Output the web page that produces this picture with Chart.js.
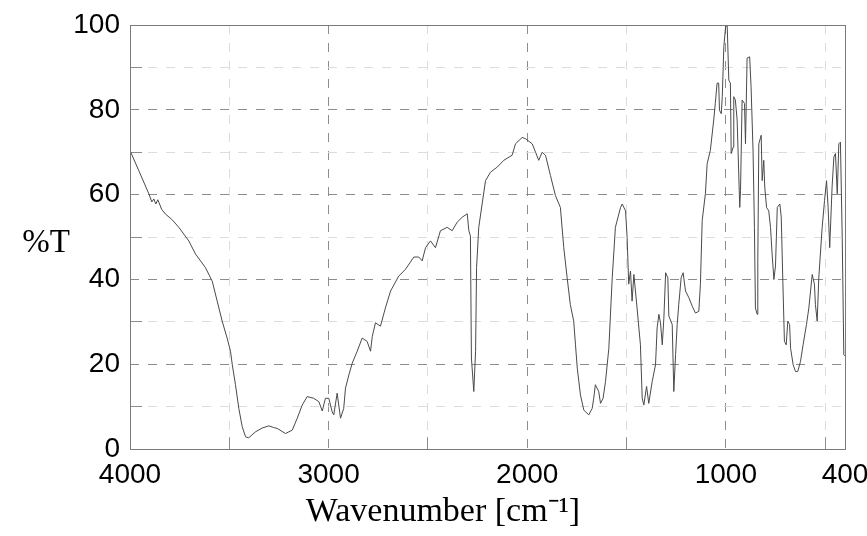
<!DOCTYPE html>
<html lang="en">
<head>
  <meta charset="UTF-8">
  <title>IR spectrum</title>
  <script src="https://cdn.jsdelivr.net/npm/chart.js"></script>
  <style>
    body { margin: 0; background: #fff; }
    #wrap { width: 867px; height: 536px; }
  </style>
</head>
<body>
  <div id="wrap"><canvas id="irChart"></canvas></div>

  <script>
    // values
    const wavenumbers = [
      4000, 3956, 3905, 3890, 3880, 3870, 3860, 3840, 3821, 3790, 3754, 3704, 3670, 3620, 3586, 3561,
      3536, 3511, 3494, 3485, 3469, 3452, 3435, 3418, 3402, 3368, 3334, 3301, 3276, 3259, 3217, 3183,
      3158, 3133, 3108, 3075, 3049, 3032, 3016, 2999, 2982, 2974, 2957, 2940, 2924, 2915, 2898, 2881,
      2856, 2831, 2806, 2789, 2780, 2764, 2739, 2714, 2688, 2647, 2613, 2571, 2546, 2529, 2512, 2487,
      2462, 2437, 2403, 2378, 2353, 2327, 2302, 2294, 2286, 2281, 2269, 2260, 2255, 2244, 2227, 2210,
      2185, 2151, 2118, 2076, 2059, 2025, 2009, 1975, 1958, 1942, 1925, 1908, 1883, 1858, 1833, 1816,
      1799, 1783, 1766, 1757, 1748, 1732, 1715, 1690, 1673, 1665, 1657, 1640, 1631, 1618, 1606, 1589,
      1572, 1556, 1530, 1522, 1505, 1497, 1489, 1480, 1472, 1463, 1447, 1430, 1421, 1413, 1399, 1388,
      1371, 1354, 1346, 1337, 1329, 1320, 1312, 1303, 1292, 1287, 1270, 1262, 1253, 1245, 1237, 1225,
      1215, 1203, 1186, 1169, 1153, 1136, 1128, 1119, 1103, 1094, 1078, 1061, 1053, 1044, 1036, 1032,
      1023, 1018, 1010, 1001, 993, 985, 977, 973, 963, 960, 952, 943, 930, 926, 918, 906,
      901, 893, 880, 873, 863, 856, 851, 842, 839, 834, 822, 817, 809, 804, 795, 784,
      775, 767, 758, 750, 741, 728, 721, 713, 705, 696, 688, 679, 674, 661, 649, 638,
      624, 611, 594, 582, 565, 554, 549, 540, 532, 515, 503, 493, 485, 477, 465, 456,
      448, 439, 431, 423, 414, 406, 400
    ];
    const transmittance = [
      70.4, 65.7, 60.2, 58.3, 59.0, 57.8, 58.8, 56.5, 55.4, 54.2, 52.3, 49.1, 46.0, 42.8, 39.6, 34.9,
      30.2, 26.2, 23.1, 19.9, 15.2, 9.6, 5.3, 2.9, 2.7, 4.1, 5.0, 5.5, 5.1, 4.9, 3.7, 4.5,
      7.3, 10.4, 12.4, 12.0, 11.2, 9.0, 12.0, 12.0, 8.8, 8.1, 13.2, 7.3, 9.6, 14.4, 17.5, 20.3,
      23.1, 26.2, 25.4, 23.1, 26.6, 29.8, 29.0, 33.3, 37.3, 40.8, 42.4, 45.3, 45.3, 44.4, 47.5, 49.1,
      47.5, 51.5, 52.3, 51.5, 53.5, 54.7, 55.5, 51.5, 50.3, 21.5, 13.6, 23.1, 42.8, 52.3, 57.8, 63.3,
      65.3, 66.5, 68.1, 69.3, 72.0, 73.5, 73.2, 72.0, 70.0, 68.1, 70.0, 69.3, 64.5, 59.8, 57.0, 47.5,
      40.4, 34.1, 30.2, 24.6, 19.1, 12.8, 9.2, 8.1, 9.6, 12.0, 15.2, 13.6, 10.8, 12.0, 15.9, 23.8,
      40.4, 52.3, 57.0, 57.8, 56.2, 49.9, 38.9, 42.0, 34.9, 41.2, 33.3, 24.6, 12.0, 10.4, 14.8, 10.8,
      15.9, 19.9, 28.6, 31.8, 29.8, 24.6, 30.9, 41.6, 40.4, 31.4, 29.4, 13.6, 22.3, 29.4, 34.1, 40.4,
      41.6, 37.3, 35.7, 33.7, 32.1, 32.5, 38.9, 53.9, 60.2, 67.3, 70.4, 77.6, 81.5, 86.3, 86.3, 79.9,
      79.1, 83.1, 94.9, 99.7, 99.7, 87.0, 86.3, 69.7, 71.2, 83.1, 82.3, 77.6, 57.0, 61.0, 82.3, 81.5,
      72.0, 92.2, 92.5, 85.5, 70.5, 52.3, 33.3, 31.8, 44.4, 72.0, 74.0, 63.3, 68.1, 61.8, 57.0, 56.2,
      52.3, 46.0, 40.0, 43.2, 57.0, 57.8, 54.7, 39.6, 25.4, 24.6, 30.2, 29.4, 23.8, 19.9, 18.3, 18.3,
      20.7, 24.6, 29.4, 33.3, 41.2, 38.9, 34.1, 30.2, 40.4, 52.3, 58.6, 63.3, 57.0, 47.5, 61.8, 68.9,
      69.7, 60.2, 72.0, 72.4, 49.9, 22.3, 22.0
    ];

    const xTickValues = [4000, 3500, 3000, 2500, 2000, 1500, 1000, 500, 400];
    const xTickLabels = [4000, 3000, 2000, 1000, 400];
    const xMajorGrid = [3000, 2000, 1000];
    const yTickLabels = [0, 20, 40, 60, 80, 100];
    const xTitle = 'Wavenumber [cm⁻¹]';
    const yTitle = '%T';

    const points = wavenumbers.map((w, i) => ({ x: w, y: transmittance[i] }));

    const MAJOR = '#8c8c8c';
    const MINOR = '#dcdcdc';

    // frame round the plot and the horizontal %T label
    const frameAndLabel = {
      id: 'frameAndLabel',
      afterDatasetsDraw(chart) {
        const { ctx, chartArea: a } = chart;
        ctx.save();
        ctx.strokeStyle = '#7a7a7a';
        ctx.lineWidth = 1;
        ctx.strokeRect(Math.round(a.left) + 0.5, Math.round(a.top) + 0.5,
          Math.round(a.right - a.left), Math.round(a.bottom - a.top));
        ctx.fillStyle = '#000';
        ctx.font = '33px "Liberation Serif"';
        ctx.textAlign = 'center';
        ctx.textBaseline = 'middle';
        ctx.fillText(yTitle, 46, chart.scales.y.getPixelForValue(48.5));
        ctx.restore();
      }
    };

    new Chart(document.getElementById('irChart'), {
      type: 'line',
      data: {
        datasets: [{
          label: '%T',
          data: points,
          borderColor: '#4a4a4a',
          borderWidth: 1,
          pointRadius: 0,
          tension: 0,
          fill: false
        }]
      },
      options: {
        responsive: true,
        maintainAspectRatio: false,
        animation: false,
        layout: { padding: { top: 25, right: 22, left: 41, bottom: 0 } },
        plugins: {
          legend: { display: false },
          tooltip: { enabled: false },
          title: {
            display: true,
            position: 'bottom',
            text: xTitle,
            color: '#000',
            font: { family: 'Liberation Serif', size: 34, weight: 'normal' },
            padding: { top: 6, bottom: 4 }
          }
        },
        scales: {
          x: {
            type: 'linear',
            reverse: true,
            min: 400,
            max: 4000,
            afterBuildTicks: s => { s.ticks = xTickValues.map(v => ({ value: v })); },
            afterFit: s => { s.height = 36; s.paddingLeft = 0; s.paddingRight = 0; },
            ticks: {
              autoSkip: false,
              maxRotation: 0,
              padding: 21,
              color: '#000',
              font: { family: 'Liberation Sans', size: 28 },
              callback: v => xTickLabels.includes(v) ? String(v) : ''
            },
            grid: {
              color: c => xMajorGrid.includes(c.tick.value) ? MAJOR
                : (c.tick.value === 4000 || c.tick.value === 400 ? 'rgba(0,0,0,0)' : MINOR),
              tickColor: c => (c.tick.value % 1000 === 500) ? '#8c8c8c' : 'rgba(0,0,0,0)',
              tickLength: -12,
              tickBorderDash: [],
              lineWidth: 1
            },
            border: { display: false, dash: [9, 9] }
          },
          y: {
            min: 0,
            max: 100,
            afterFit: s => { s.width = 89; s.paddingTop = 0; s.paddingBottom = 0; },
            ticks: {
              stepSize: 10,
              padding: 22,
              color: '#000',
              font: { family: 'Liberation Sans', size: 28 },
              callback: v => yTickLabels.includes(v) ? String(v) : ''
            },
            grid: {
              color: c => (c.tick.value === 0 || c.tick.value === 100) ? 'rgba(0,0,0,0)'
                : (c.tick.value % 20 === 0 ? MAJOR : MINOR),
              tickColor: c => (c.tick.value % 20 === 10) ? '#8c8c8c' : 'rgba(0,0,0,0)',
              tickLength: -12,
              tickBorderDash: [],
              lineWidth: 1
            },
            border: { display: false, dash: [9, 9] }
          }
        }
      },
      plugins: [frameAndLabel]
    });
  </script>
</body>
</html>
